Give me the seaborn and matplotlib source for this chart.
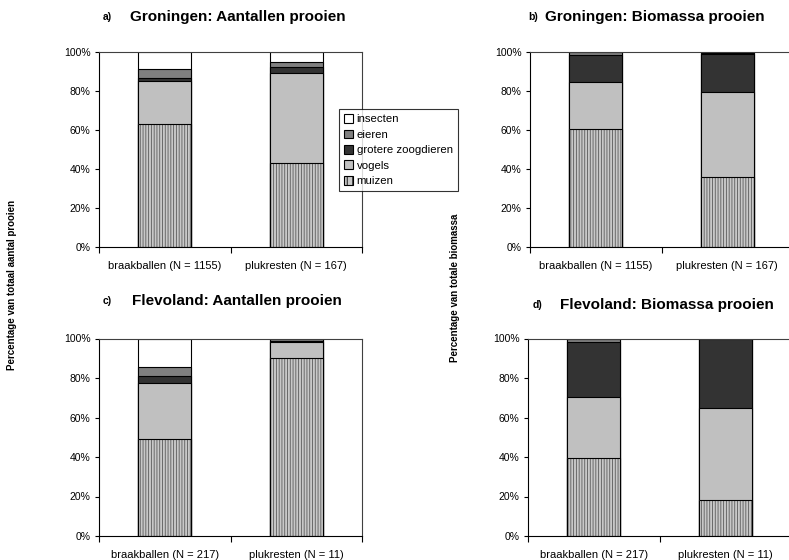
import numpy as np
import matplotlib.pyplot as plt
import seaborn as sns
from matplotlib.patches import Patch
from matplotlib.ticker import PercentFormatter

sns.set_style("white")
plt.rcParams['font.family'] = ['Liberation Sans', 'DejaVu Sans']
plt.rcParams['hatch.linewidth'] = 0.6
plt.rcParams['text.color'] = 'black'
plt.rcParams['xtick.color'] = 'black'
plt.rcParams['ytick.color'] = 'black'

# prey groups, bottom -> top of the stack
groups = ["muizen", "vogels", "grotere zoogdieren", "eieren", "insecten"]
colors = ["#c8c8c8", "#c0c0c0", "#333333", "#808080", "white"]

labels_gr = ["braakballen (N = 1155)", "plukresten (N = 167)"]
labels_fl = ["braakballen (N = 217)", "plukresten (N = 11)"]

# percentages [braakballen, plukresten]
# a) Groningen aantallen
a_muizen = [62.7, 42.7]
a_vogels = [22.1, 46.4]
a_grotere = [1.5, 3.2]
a_eieren = [4.6, 2.2]
a_insecten = [9.1, 5.5]
# b) Groningen biomassa
b_muizen = [60.2, 35.7]
b_vogels = [24.1, 43.6]
b_grotere = [13.8, 19.3]
b_eieren = [1.9, 0.9]
b_insecten = [0.0, 0.5]
# c) Flevoland aantallen
c_muizen = [48.9, 90.1]
c_vogels = [28.7, 8.0]
c_grotere = [3.5, 0.7]
c_eieren = [4.6, 1.2]
c_insecten = [14.3, 0.0]
# d) Flevoland biomassa
d_muizen = [39.7, 18.1]
d_vogels = [30.9, 46.8]
d_grotere = [27.7, 35.1]
d_eieren = [1.4, 0.0]
d_insecten = [0.3, 0.0]

fig = plt.figure(figsize=(7.89, 5.6), dpi=100)

W, H = 789, 560
def axes_px(x0, x1, y0, y1):
    return fig.add_axes([x0 / W, 1 - y1 / H, (x1 - x0) / W, (y1 - y0) / H])

ax_a = axes_px(99, 362, 51.7, 246.7)
ax_b = axes_px(530, 793, 51.7, 246.7)
ax_c = axes_px(99, 362, 338.5, 536)
ax_d = axes_px(528, 791, 338.5, 536)


def draw_panel(ax, labels, muizen, vogels, grotere, eieren, insecten):
    tops = np.cumsum([muizen, vogels, grotere, eieren, insecten], axis=0)
    for i in range(4, 0, -1):
        sns.barplot(x=labels, y=tops[i], color=colors[i], saturation=1,
                    width=0.4, edgecolor="black", linewidth=0.8, ax=ax)
    # muizen: hatched, then black outline
    sns.barplot(x=labels, y=tops[0], color=colors[0], saturation=1,
                width=0.4, edgecolor="#5a5a5a", linewidth=0, hatch="||||||", ax=ax)
    sns.barplot(x=labels, y=tops[0], color="black", saturation=1, fill=False,
                width=0.4, linewidth=0.8, ax=ax)
    ax.set_xlim(-0.5, 1.5)
    ax.set_ylim(0, 100)
    ax.set_yticks(range(0, 101, 20))
    ax.yaxis.set_major_formatter(PercentFormatter(100, decimals=0))
    ax.set_xticks([-0.5, 0.5, 1.5], minor=True)
    ax.tick_params(axis="x", which="major", length=0, labelsize=8, pad=10)
    ax.tick_params(axis="x", which="minor", bottom=True, length=4, width=0.8,
                   color="black")
    ax.tick_params(axis="y", left=True, length=3, width=0.8, color="black",
                   labelsize=7.5, pad=3)
    ax.set_xlabel("")
    ax.set_ylabel("")
    for s in ["left", "bottom"]:
        ax.spines[s].set_color("black")
        ax.spines[s].set_linewidth(0.8)
    for s in ["top", "right"]:
        ax.spines[s].set_color("#404040")
        ax.spines[s].set_linewidth(0.8)


draw_panel(ax_a, labels_gr, a_muizen, a_vogels, a_grotere, a_eieren, a_insecten)
draw_panel(ax_b, labels_gr, b_muizen, b_vogels, b_grotere, b_eieren, b_insecten)
draw_panel(ax_c, labels_fl, c_muizen, c_vogels, c_grotere, c_eieren, c_insecten)
draw_panel(ax_d, labels_fl, d_muizen, d_vogels, d_grotere, d_eieren, d_insecten)

# titles
titles = [(103, 130, 17, "a)", "Groningen: Aantallen prooien"),
          (528, 545, 17, "b)", "Groningen: Biomassa prooien"),
          (103, 132, 301, "c)", "Flevoland: Aantallen prooien"),
          (533, 560, 305, "d)", "Flevoland: Biomassa prooien")]
for xs, xt, yt, tag, txt in titles:
    fig.text(xs / W, 1 - yt / H, tag, fontsize=7.5, fontweight="bold",
             ha="left", va="center")
    fig.text(xt / W, 1 - yt / H, txt, fontsize=11, fontweight="bold",
             ha="left", va="center")

fig.text(12 / W, 1 - 285 / H, "Percentage van totaal aantal prooien", rotation=90,
         fontsize=7, fontweight="bold", ha="center", va="center")
fig.text(455 / W, 1 - 288 / H, "Percentage van totale biomassa", rotation=90,
         fontsize=7, fontweight="bold", ha="center", va="center")

# legend, top of stack first
handles = []
for g, c in zip(groups[::-1], colors[::-1]):
    if g == "muizen":
        handles.append(Patch(facecolor=c, edgecolor="black", hatch="|||", linewidth=0.8))
    else:
        handles.append(Patch(facecolor=c, edgecolor="black", linewidth=0.8))
leg = fig.legend(handles, groups[::-1], loc="upper left",
                 bbox_to_anchor=(339 / W, 1 - 109 / H), fontsize=8.2,
                 frameon=True, fancybox=False, edgecolor="black",
                 handlelength=0.8, handleheight=0.8, handletextpad=0.3,
                 labelspacing=0.45, borderpad=0.45, borderaxespad=0)
leg.get_frame().set_linewidth(0.8)

fig.savefig("out.png", dpi=100)
